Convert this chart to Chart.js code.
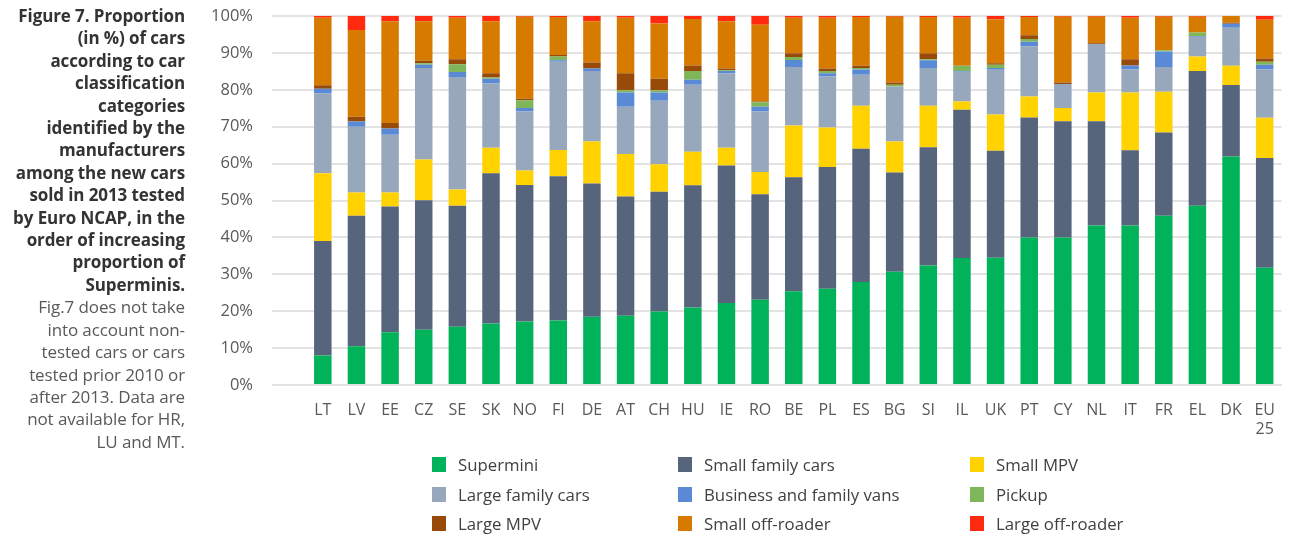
<!DOCTYPE html>
<html>
<head>
<meta charset="utf-8">
<script src="https://cdn.jsdelivr.net/npm/chart.js@4.4.1/dist/chart.umd.min.js"></script>
<style>
  body { margin: 0; background: #fff; font-family: "Open Sans", sans-serif; }
  #wrap { position: relative; width: 1291px; height: 538px; overflow: hidden; }
  #chart { position: absolute; left: 0; top: 0; }
  #title {
    position: absolute; left: 0; top: 5px; width: 185px;
    text-align: right; font-size: 17px; line-height: 22.4px; color: #595959;
    letter-spacing: -0.1px;
  }
  #title b { color: #333; }
  #legend { position: absolute; left: 0; top: 0; }
  .item { position: absolute; font-size: 16.8px; color: #404040; white-space: nowrap; line-height: 20px; }
  .item span { position: absolute; left: 0; top: 2px; width: 14px; height: 15px; }
  .item em { font-style: normal; position: absolute; left: 26px; top: 0; }
</style>
</head>
<body>
<div id="wrap">
  <canvas id="chart" width="1291" height="538"></canvas>
  <div id="title"><b>Figure 7. Proportion<br>(in %) of cars<br>according to car<br>classification<br>categories<br>identified by the<br>manufacturers<br>among the new cars<br>sold in 2013 tested<br>by Euro NCAP, in the<br>order of increasing<br>proportion of<br>Superminis.</b><br>Fig.7 does not take<br>into account non-<br>tested cars or cars<br>tested prior 2010 or<br>after 2013. Data are<br>not available for HR,<br>LU and MT.</div>
  <div id="legend"></div>
</div>
<script>
const countries = ['LT', 'LV', 'EE', 'CZ', 'SE', 'SK', 'NO', 'FI', 'DE', 'AT', 'CH', 'HU', 'IE', 'RO', 'BE',
  'PL', 'ES', 'BG', 'SI', 'IL', 'UK', 'PT', 'CY', 'NL', 'IT', 'FR', 'EL', 'DK', ['EU', '25']];

const supermini   = [8, 10.5, 14.3, 15, 15.8, 16.7, 17.2, 17.5, 18.5, 18.8, 19.9, 21, 22.2, 23.1, 25.4, 26.1, 27.9, 30.7, 32.4, 34.4, 34.5, 40, 40, 43.2, 43.2, 45.9, 48.6, 61.9, 31.8];
const smallFamily = [31, 35.4, 34.1, 35.1, 32.8, 40.7, 37, 39.1, 36.1, 32.3, 32.5, 33.1, 37.3, 28.6, 30.9, 33, 36.1, 26.9, 32, 40.2, 29, 32.5, 31.5, 28.3, 20.4, 22.5, 36.5, 19.4, 29.7];
const smallMPV    = [18.4, 6.3, 3.8, 11, 4.4, 6.9, 3.9, 7.1, 11.4, 11.5, 7.4, 9.1, 4.8, 6, 14, 10.7, 11.7, 8.4, 11.3, 2.2, 9.8, 5.7, 3.6, 7.8, 15.7, 11.1, 3.9, 5.2, 10.9];
const largeFamily = [21.6, 17.8, 15.6, 24.8, 30.5, 17.4, 16, 23.9, 19.1, 12.8, 17.2, 18.2, 20.2, 16.4, 15.9, 13.8, 8.4, 14.9, 10.2, 8.1, 12.1, 13.6, 6.5, 13.1, 6.2, 6.7, 5.4, 10.3, 13.1];
const vans        = [1.3, 1.4, 1.7, 0.9, 1.3, 1.3, 1, 0.4, 0.7, 3.9, 2.3, 1.3, 0.6, 1.3, 1.9, 0.9, 1.4, 0, 2.1, 0.2, 0.5, 1.2, 0, 0, 1.1, 4.2, 0.2, 1.1, 1.3];
const pickup      = [0, 0, 0, 0.4, 2.1, 0.3, 2.1, 1, 0, 0.6, 0.6, 2.4, 0.2, 1.2, 0.8, 0.6, 0.4, 0.5, 0.3, 1.4, 0.9, 0.8, 0, 0, 0, 0.3, 0.9, 0, 0.8];
const largeMPV    = [0.9, 1.3, 1.5, 0.7, 1.4, 1.2, 0.4, 0.4, 1.6, 4.6, 3.1, 1.5, 0.5, 0.2, 1, 0.7, 0.6, 0.6, 1.6, 0, 0.4, 1, 0.4, 0.2, 1.7, 0, 0, 0.3, 0.9];
const smallOff    = [18.3, 23.5, 27.6, 10.7, 11.2, 14.1, 22.2, 10.3, 11.2, 15, 15, 12.6, 12.8, 20.8, 9.6, 13.7, 13.2, 17.8, 9.8, 13, 11.9, 4.9, 17.8, 7.2, 11.2, 9.1, 4.3, 1.8, 10.5];
const largeOff    = [0.5, 3.8, 1.4, 1.4, 0.5, 1.4, 0.2, 0.3, 1.4, 0.5, 2, 0.8, 1.4, 2.4, 0.5, 0.5, 0.3, 0.2, 0.3, 0.5, 0.9, 0.3, 0.2, 0.2, 0.5, 0.2, 0.2, 0, 1];

const yTicks = [0, 10, 20, 30, 40, 50, 60, 70, 80, 90, 100];

function ds(label, data, color) {
  return {
    label: label,
    data: data,
    backgroundColor: color,
    borderWidth: 0,
    barPercentage: 0.52,
    categoryPercentage: 1
  };
}

const ctx = document.getElementById('chart').getContext('2d');

const chart = new Chart(ctx, {
  type: 'bar',
  data: {
    labels: countries,
    datasets: [
      ds('Supermini', supermini, '#00b259'),
      ds('Small family cars', smallFamily, '#56657c'),
      ds('Small MPV', smallMPV, '#ffd200'),
      ds('Large family cars', largeFamily, '#97a7bc'),
      ds('Business and family vans', vans, '#5a89d5'),
      ds('Pickup', pickup, '#80b65a'),
      ds('Large MPV', largeMPV, '#984a08'),
      ds('Small off-roader', smallOff, '#d77b00'),
      ds('Large off-roader', largeOff, '#ff2a10')
    ]
  },
  options: {
    responsive: false,
    animation: false,
    layout: { padding: { left: 200, right: 2, top: 16, bottom: 0 } },
    plugins: {
      legend: { display: false },
      tooltip: { enabled: false }
    },
    scales: {
      x: {
        stacked: true,
        grid: { display: true, drawOnChartArea: false, drawTicks: false },
        border: { display: true, color: '#e3e3e3', width: 2 },
        ticks: {
          color: '#595959',
          font: { family: 'Open Sans', size: 16 },
          padding: 16,
          maxRotation: 0,
          autoSkip: false
        },
        afterFit: function(scale) { scale.height = 153; }
      },
      y: {
        stacked: true,
        min: 0,
        max: 100,
        afterBuildTicks: function(scale) {
          scale.ticks = yTicks.map(v => ({ value: v }));
        },
        grid: { color: '#e3e3e3', lineWidth: 2, tickLength: 34, drawTicks: true },
        border: { display: false },
        ticks: {
          color: '#595959',
          font: { family: 'Open Sans', size: 16.5 },
          padding: 19,
          callback: function(value) {
            return value + '%';
          }
        },
        afterFit: function(scale) {
          scale.width = 106;
          // tick padding should not push the plot down
          scale.paddingTop = 0;
          scale.paddingBottom = 0;
        }
      }
    }
  }
});

// legend built from the chart's datasets, 3 columns x 3 rows
const legendCols = [432, 678, 970];
const legendRows = [455, 485, 514];
const legendEl = document.getElementById('legend');
chart.data.datasets.forEach(function(d, i) {
  const item = document.createElement('div');
  item.className = 'item';
  item.style.left = legendCols[i % 3] + 'px';
  item.style.top = legendRows[Math.floor(i / 3)] + 'px';
  item.innerHTML = '<span style="background:' + d.backgroundColor + '"></span><em>' + d.label + '</em>';
  legendEl.appendChild(item);
});
</script>
</body>
</html>
